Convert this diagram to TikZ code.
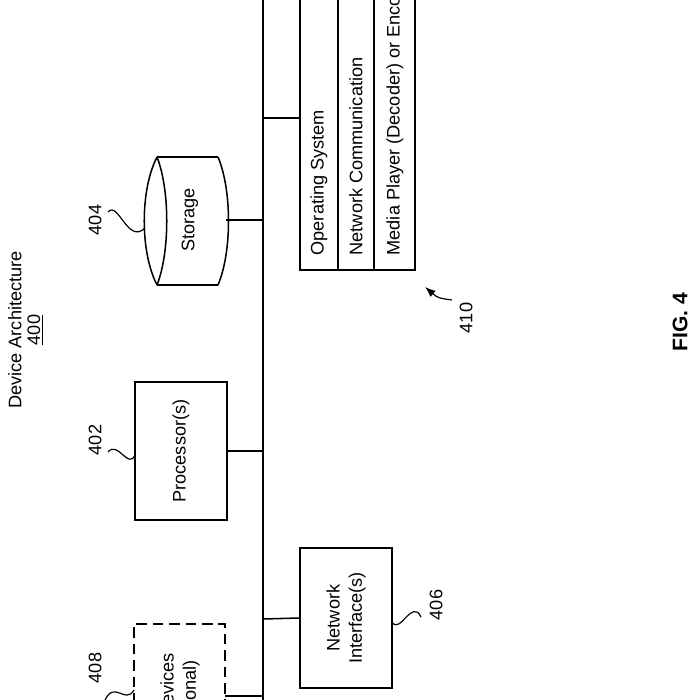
\documentclass[tikz,border=0pt]{standalone}
\usepackage{fontspec}
\setmainfont{Liberation Sans}
\usetikzlibrary{arrows.meta}
\begin{document}
\begin{tikzpicture}[x=0.03cm,y=-0.03cm,line width=1.3pt,
  lbl/.style={rotate=90,font=\fontsize{15.5}{19}\selectfont},
  sq/.style={line width=1pt}]
\useasboundingbox (0,0) rectangle (700,700);
\clip (0,0) rectangle (700,700);
% bus
\coordinate (b0) at (263,0); \coordinate (b1) at (263,700);
\draw (b0) -- (b1);
% memory box
\draw (300,-5) -- (300,270) -- (415,270) -- (415,-5);
\draw (338,-5) -- (338,270); \draw (374,-5) -- (374,270);
\draw (263,118) -- (300,118);
\node[lbl,anchor=west] (os) at (319,260) {Operating System};
\node[lbl,anchor=west] (nc) at (356,260) {Network Communication};
\node[lbl,anchor=west] (mp) at (395,260) {Media Player (Decoder) or Encoder};
\coordinate (a0) at (452,300);
\draw[-{Latex[length=9pt]},line width=1pt] (a0) .. controls (438,298) .. (425,287);
\node[lbl] (l410) at (466,318) {410};
% storage cylinder
\draw (218,157) -- (157,157);
\draw (218,285) -- (157,285);
\draw (157,157) .. controls (140,190) and (140,252) .. (157,285);
\draw (157,157) .. controls (170,190) and (170,252) .. (157,285);
\draw (218,157) .. controls (232,190) and (232,252) .. (218,285);
\node[lbl] (st) at (190,220) {Storage};
\draw (226,220) -- (263,220);
\node[lbl] (l404) at (95,220) {404};
\draw[sq] (108,212) .. controls (118,200) and (128,245) .. (145,228);
% processor
\node[draw,minimum width=92*0.03cm,minimum height=138*0.03cm] (pr) at (181,451) {};
\node[lbl] at (pr) {Processor(s)};
\draw (pr.east) -- (263,451);
\node[lbl] (l402) at (95,440) {402};
\draw[sq] (108,452) .. controls (118,440) and (128,470) .. (135,455);
% network interface
\node[draw,minimum width=92*0.03cm,minimum height=140*0.03cm] (ni) at (346,618) {};
\node[lbl,align=center] at (ni) {Network\\Interface(s)};
\draw (263,619) -- (ni.west);
\node[lbl] (l406) at (436,605) {406};
\draw[sq] (392,622) .. controls (400,635) and (412,598) .. (421,617);
% I/O
\draw[dash pattern=on 9pt off 5pt] (134,720) -- (134,624) -- (225,624) -- (225,720);
\node[lbl,align=center] (io) at (180,700) {I/O Devices\\(Optional)};
\draw (225,696) -- (263,696);
\node[lbl] (l408) at (95,668) {408};
\draw[sq] (105,700) .. controls (115,680) and (125,705) .. (134,690);
% titles
\node[lbl] (t1) at (15,330) {Device Architecture};
\node[lbl] (t2) at (35,330) {\underline{400}};
\node[rotate=90,font=\bfseries\fontsize{18}{20}\selectfont] (fig) at (680,322) {FIG. 4};
\end{tikzpicture}
\end{document}
